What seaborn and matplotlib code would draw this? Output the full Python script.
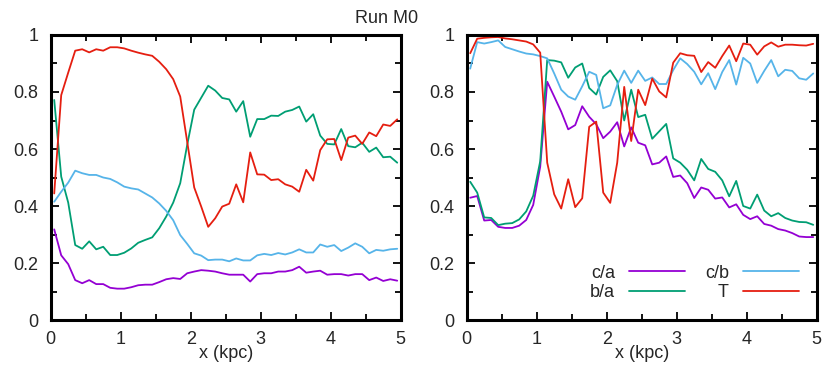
import matplotlib
matplotlib.use("Agg")
import matplotlib.pyplot as plt
from matplotlib.ticker import MultipleLocator, FuncFormatter
import pandas as pd
import seaborn as sns

# bin centres (kpc)
x_kpc = [0.05, 0.15, 0.25, 0.35, 0.45, 0.55, 0.65, 0.75, 0.85, 0.95,
         1.05, 1.15, 1.25, 1.35, 1.45, 1.55, 1.65, 1.75, 1.85, 1.95,
         2.05, 2.15, 2.25, 2.35, 2.45, 2.55, 2.65, 2.75, 2.85, 2.95,
         3.05, 3.15, 3.25, 3.35, 3.45, 3.55, 3.65, 3.75, 3.85, 3.95,
         4.05, 4.15, 4.25, 4.35, 4.45, 4.55, 4.65, 4.75, 4.85, 4.95]

# left panel
left_ca = [0.318, 0.227, 0.196, 0.140, 0.129, 0.140, 0.126, 0.126, 0.113, 0.110,
           0.110, 0.115, 0.122, 0.124, 0.124, 0.133, 0.143, 0.147, 0.144, 0.164,
           0.170, 0.175, 0.173, 0.170, 0.164, 0.159, 0.159, 0.159, 0.135, 0.161,
           0.164, 0.164, 0.170, 0.170, 0.175, 0.187, 0.166, 0.170, 0.173, 0.159,
           0.161, 0.161, 0.156, 0.161, 0.161, 0.140, 0.149, 0.137, 0.143, 0.138]
left_ba = [0.772, 0.503, 0.412, 0.263, 0.250, 0.276, 0.248, 0.257, 0.228, 0.228,
           0.236, 0.251, 0.271, 0.281, 0.290, 0.322, 0.363, 0.412, 0.480, 0.615,
           0.738, 0.780, 0.822, 0.805, 0.779, 0.774, 0.731, 0.768, 0.643, 0.705,
           0.705, 0.717, 0.716, 0.731, 0.737, 0.749, 0.696, 0.722, 0.647, 0.618,
           0.616, 0.670, 0.610, 0.606, 0.622, 0.590, 0.605, 0.571, 0.573, 0.552]
left_cb = [0.415, 0.450, 0.482, 0.524, 0.515, 0.509, 0.509, 0.500, 0.495, 0.483,
           0.468, 0.462, 0.458, 0.444, 0.430, 0.409, 0.383, 0.350, 0.298, 0.267,
           0.234, 0.226, 0.210, 0.212, 0.212, 0.206, 0.216, 0.209, 0.209, 0.227,
           0.232, 0.228, 0.235, 0.230, 0.237, 0.248, 0.237, 0.237, 0.265, 0.257,
           0.263, 0.242, 0.254, 0.269, 0.257, 0.234, 0.246, 0.243, 0.248, 0.250]
left_T = [0.444, 0.789, 0.868, 0.945, 0.950, 0.939, 0.950, 0.945, 0.957, 0.957,
          0.953, 0.945, 0.938, 0.932, 0.927, 0.906, 0.880, 0.845, 0.784, 0.625,
          0.465, 0.398, 0.327, 0.357, 0.398, 0.408, 0.476, 0.413, 0.588, 0.511,
          0.510, 0.491, 0.494, 0.476, 0.468, 0.450, 0.527, 0.489, 0.596, 0.634,
          0.635, 0.561, 0.640, 0.647, 0.618, 0.658, 0.645, 0.686, 0.681, 0.704]

# right panel
right_ca = [0.429, 0.435, 0.349, 0.351, 0.327, 0.323, 0.323, 0.331, 0.351, 0.404,
            0.538, 0.836, 0.784, 0.731, 0.669, 0.684, 0.750, 0.713, 0.687, 0.638,
            0.661, 0.694, 0.609, 0.676, 0.622, 0.613, 0.546, 0.552, 0.574, 0.502,
            0.507, 0.480, 0.428, 0.465, 0.457, 0.426, 0.430, 0.395, 0.406, 0.369,
            0.354, 0.364, 0.337, 0.331, 0.319, 0.314, 0.305, 0.293, 0.291, 0.291]
right_ba = [0.485, 0.447, 0.360, 0.358, 0.333, 0.338, 0.340, 0.353, 0.381, 0.436,
            0.557, 0.912, 0.910, 0.904, 0.850, 0.886, 0.900, 0.814, 0.791, 0.853,
            0.876, 0.838, 0.700, 0.808, 0.712, 0.720, 0.636, 0.662, 0.688, 0.567,
            0.552, 0.527, 0.490, 0.565, 0.530, 0.520, 0.490, 0.434, 0.488, 0.400,
            0.391, 0.440, 0.384, 0.364, 0.375, 0.358, 0.349, 0.344, 0.343, 0.334]
right_cb = [0.882, 0.975, 0.970, 0.975, 0.981, 0.958, 0.950, 0.942, 0.935, 0.932,
            0.926, 0.918, 0.865, 0.808, 0.784, 0.773, 0.820, 0.871, 0.860, 0.743,
            0.753, 0.825, 0.875, 0.832, 0.875, 0.839, 0.851, 0.828, 0.828, 0.877,
            0.918, 0.898, 0.871, 0.827, 0.866, 0.810, 0.870, 0.912, 0.826, 0.920,
            0.900, 0.832, 0.874, 0.912, 0.855, 0.878, 0.874, 0.848, 0.843, 0.865]
right_T = [0.936, 0.987, 0.990, 0.992, 0.993, 0.988, 0.985, 0.981, 0.977, 0.967,
           0.938, 0.552, 0.441, 0.391, 0.494, 0.396, 0.427, 0.678, 0.696, 0.447,
           0.411, 0.552, 0.818, 0.628, 0.808, 0.754, 0.847, 0.802, 0.781, 0.903,
           0.936, 0.929, 0.927, 0.870, 0.905, 0.885, 0.926, 0.963, 0.908, 0.970,
           0.966, 0.931, 0.960, 0.974, 0.959, 0.966, 0.966, 0.964, 0.963, 0.969]

series = ["c/a", "b/a", "c/b", "T"]
colors = {"c/a": "#9400d3", "b/a": "#009e73", "c/b": "#56b4e9", "T": "#e51e10"}

sns.set_style("ticks")
plt.rcParams["font.family"] = ["Liberation Sans", "DejaVu Sans"]

fig = plt.figure(figsize=(8.3, 3.68), dpi=100)
ax_l = fig.add_axes([0.0611, 0.1304, 0.4217, 0.7745])
ax_r = fig.add_axes([0.5623, 0.1304, 0.4217, 0.7745])

panels = [
    (ax_l, [left_ca, left_ba, left_cb, left_T]),
    (ax_r, [right_ca, right_ba, right_cb, right_T]),
]

fmt = FuncFormatter(lambda v, p: "%g" % round(v, 3))

for ax, vals in panels:
    df = pd.DataFrame({"x": x_kpc})
    for name, v in zip(series, vals):
        df[name] = v
    for name in series:
        sns.lineplot(data=df, x="x", y=name, color=colors[name], lw=1.3,
                     label=name, ax=ax, legend=False)
    ax.set_xlim(0, 5)
    ax.set_ylim(0, 1)
    ax.xaxis.set_major_locator(MultipleLocator(1))
    ax.xaxis.set_minor_locator(MultipleLocator(0.5))
    ax.yaxis.set_major_locator(MultipleLocator(0.2))
    ax.yaxis.set_minor_locator(MultipleLocator(0.1))
    ax.xaxis.set_major_formatter(fmt)
    ax.yaxis.set_major_formatter(fmt)
    ax.tick_params(which="both", direction="in", top=True, right=True,
                   width=1.3, color="black", labelsize=13)
    ax.tick_params(which="major", length=6)
    ax.tick_params(which="minor", length=4)
    ax.tick_params(axis="x", pad=8)
    ax.tick_params(axis="y", pad=9)
    for sp in ax.spines.values():
        sp.set_linewidth(2.2)
        sp.set_color("black")
    ax.set_xlabel("x (kpc)", fontsize=13, labelpad=-2)
    ax.set_ylabel("")

ax_r.legend(ncol=2, loc="lower right", bbox_to_anchor=(0.949, 0.065),
            frameon=False, markerfirst=False, fontsize=13, handlelength=3.1,
            handletextpad=0.78, columnspacing=1.1, labelspacing=0.15,
            borderpad=0, borderaxespad=0)

fig.text(0.4657, 0.951, "Run M0", ha="center", va="center", fontsize=13)

fig.savefig("out.png", dpi=100)
